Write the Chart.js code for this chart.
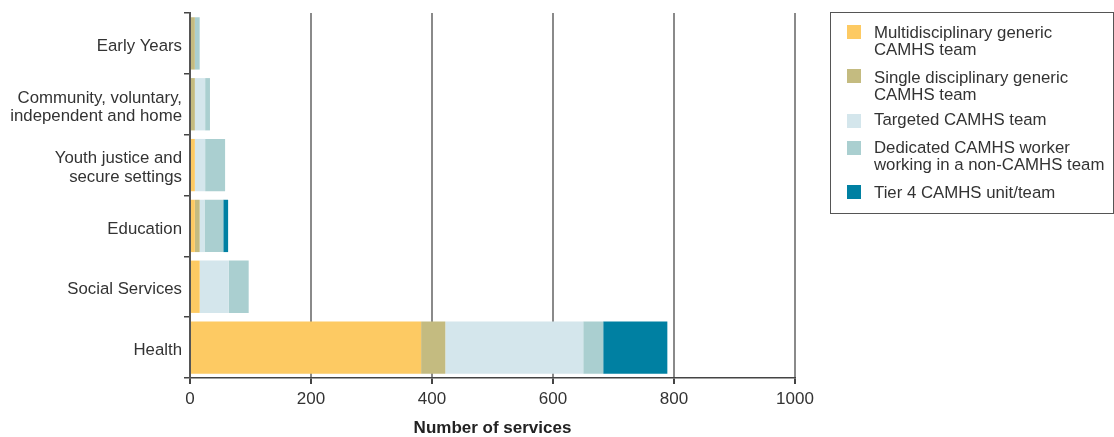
<!DOCTYPE html>
<html>
<head>
<meta charset="utf-8">
<script src="https://cdn.jsdelivr.net/npm/chart.js@4"></script>
<style>
  html, body { margin: 0; padding: 0; background: #fff; }
  body { width: 1114px; height: 437px; position: relative; overflow: hidden; font-family: "Liberation Sans", Arial, sans-serif; }
  #wrap { position: absolute; left: 0; top: 0; width: 1114px; height: 437px; }
  #legend { position: absolute; left: 830px; top: 12px; width: 284px; height: 202px; border: 1.5px solid #555; box-sizing: border-box; }
  .sw { position: absolute; left: 847px; width: 14px; height: 14px; }
  .tx { position: absolute; left: 874px; font-size: 16.8px; line-height: 17px; color: #333; white-space: nowrap; }
</style>
</head>
<body>
<div id="wrap"><canvas id="c" width="1114" height="437"></canvas></div>
<div id="legend"></div>
<script>
const categories = [
  "Early Years",
  ["Community, voluntary,", "independent and home"],
  ["Youth justice and", "secure settings"],
  "Education",
  "Social Services",
  "Health"
];
const seriesNames = [
  ["Multidisciplinary generic", "CAMHS team"],
  ["Single disciplinary generic", "CAMHS team"],
  ["Targeted CAMHS team"],
  ["Dedicated CAMHS worker", "working in a non-CAMHS team"],
  ["Tier 4 CAMHS unit/team"]
];
const multidisciplinary = [0, 0, 8, 8, 16, 382];
const singleDisciplinary = [8, 8, 0, 8, 0, 40];
const targeted = [0, 17, 17, 8, 48, 228];
const dedicatedWorker = [8, 8, 33, 31, 33, 33];
const tier4 = [0, 0, 0, 8, 0, 106];
const xTicks = [0, 200, 400, 600, 800, 1000];
const colors = ["#FDCA63", "#C4BB80", "#D4E6EC", "#AACFD0", "#0080A2"];

const seriesData = [multidisciplinary, singleDisciplinary, targeted, dedicatedWorker, tier4];
const FONT = "Liberation Sans, Arial, sans-serif";

const datasets = seriesData.map((d, i) => ({
  label: seriesNames[i].join(" "),
  data: d,
  backgroundColor: colors[i],
  borderWidth: 0,
  barPercentage: 0.86,
  categoryPercentage: 1.0
}));

new Chart(document.getElementById("c"), {
  type: "bar",
  data: { labels: categories, datasets },
  options: {
    indexAxis: "y",
    responsive: false,
    animation: false,
    layout: { padding: { top: 13, right: 319, bottom: 0, left: 0 } },
    plugins: { legend: { display: false }, tooltip: { enabled: false } },
    scales: {
      x: {
        stacked: true,
        min: 0, max: 1000,
        afterBuildTicks: (s) => { s.ticks = xTicks.map(v => ({ value: v })); },
        afterFit: (s) => { s.height = 59; },
        border: { display: true, color: "#444", width: 1.5 },
        grid: {
          color: (ctx) => ctx.tick && ctx.tick.value === 0 ? "rgba(0,0,0,0)" : "#8a8a8a",
          lineWidth: 2,
          drawTicks: true,
          tickLength: 6,
          tickColor: "#444"
        },
        ticks: {
          color: "#333",
          font: { family: FONT, size: 17 },
          padding: 5,
          callback: (v) => String(v)
        },
        title: {
          display: true,
          text: "Number of services",
          color: "#222",
          font: { family: FONT, size: 17, weight: "bold", lineHeight: 1.0 },
          padding: { top: 10, bottom: 0 }
        }
      },
      y: {
        stacked: true,
        afterFit: (s) => { s.width = 190; },
        border: { display: true, color: "#555", width: 2 },
        grid: {
          offset: true,
          drawOnChartArea: false,
          drawTicks: true,
          tickLength: 6,
          color: "#444",
          lineWidth: 1.5
        },
        ticks: { color: "#333", font: { family: FONT, size: 16.8, lineHeight: 1.1 }, padding: 2, labelOffset: 3 }
      }
    }
  }
});

// HTML legend built from the series names and colours
const swTops = [25, 69, 114, 141, 185];
const txTops = [24, 69, 111, 139, 184];
seriesNames.forEach((name, i) => {
  const sw = document.createElement("div");
  sw.className = "sw";
  sw.style.top = swTops[i] + "px";
  sw.style.background = colors[i];
  const tx = document.createElement("div");
  tx.className = "tx";
  tx.style.top = txTops[i] + "px";
  tx.innerHTML = name.join("<br>");
  document.body.appendChild(sw);
  document.body.appendChild(tx);
});
</script>
</body>
</html>
